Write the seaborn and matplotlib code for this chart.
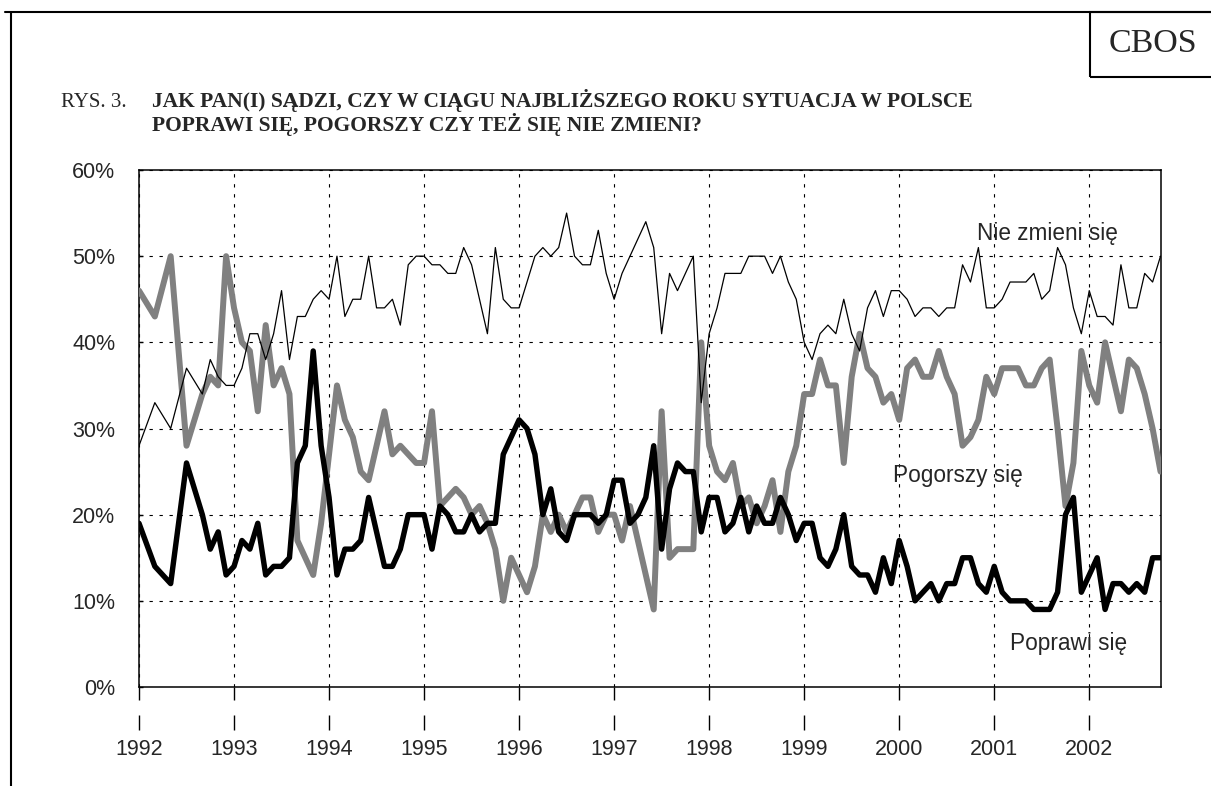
import pandas as pd
import matplotlib
matplotlib.use('Agg')
import matplotlib.pyplot as plt
from matplotlib.lines import Line2D
from matplotlib.patches import Rectangle
import seaborn as sns

# miesiace badan: w 1992 co dwa miesiace do lipca, potem co miesiac (do X 2002)
miesiace = pd.period_range('1992-01', '2002-10', freq='M')
miesiace = [m for m in miesiace if str(m) not in ('1992-02', '1992-04', '1992-06', '1992-08')]

nie_zmieni = [
    28, 33, 30, 37, 34, 38, 36, 35,
    35, 37, 41, 41, 38, 41, 46, 38, 43, 43, 45, 46,
    45, 50, 43, 45, 45, 50, 44, 44, 45, 42, 49, 50,
    50, 49, 49, 48, 48, 51, 49, 45, 41, 51, 45, 44,
    44, 47, 50, 51, 50, 51, 55, 50, 49, 49, 53, 48,
    45, 48, 50, 52, 54, 51, 41, 48, 46, 48, 50, 33,
    41, 44, 48, 48, 48, 50, 50, 50, 48, 50, 47, 45,
    40, 38, 41, 42, 41, 45, 41, 39, 44, 46, 43, 46,
    46, 45, 43, 44, 44, 43, 44, 44, 49, 47, 51, 44,
    44, 45, 47, 47, 47, 48, 45, 46, 51, 49, 44, 41,
    46, 43, 43, 42, 49, 44, 44, 48, 47, 50,
]
pogorszy = [
    46, 43, 50, 28, 34, 36, 35, 50,
    44, 40, 39, 32, 42, 35, 37, 34, 17, 15, 13, 19,
    27, 35, 31, 29, 25, 24, 28, 32, 27, 28, 27, 26,
    26, 32, 21, 22, 23, 22, 20, 21, 19, 16, 10, 15,
    13, 11, 14, 20, 18, 20, 18, 20, 22, 22, 18, 20,
    20, 17, 21, 17, 13, 9, 32, 15, 16, 16, 16, 40,
    28, 25, 24, 26, 21, 22, 19, 21, 24, 18, 25, 28,
    34, 34, 38, 35, 35, 26, 36, 41, 37, 36, 33, 34,
    31, 37, 38, 36, 36, 39, 36, 34, 28, 29, 31, 36,
    34, 37, 37, 37, 35, 35, 37, 38, 30, 21, 26, 39,
    35, 33, 40, 36, 32, 38, 37, 34, 30, 25,
]
poprawi = [
    19, 14, 12, 26, 20, 16, 18, 13,
    14, 17, 16, 19, 13, 14, 14, 15, 26, 28, 39, 28,
    22, 13, 16, 16, 17, 22, 18, 14, 14, 16, 20, 20,
    20, 16, 21, 20, 18, 18, 20, 18, 19, 19, 27, 29,
    31, 30, 27, 20, 23, 18, 17, 20, 20, 20, 19, 20,
    24, 24, 19, 20, 22, 28, 16, 23, 26, 25, 25, 18,
    22, 22, 18, 19, 22, 18, 21, 19, 19, 22, 20, 17,
    19, 19, 15, 14, 16, 20, 14, 13, 13, 11, 15, 12,
    17, 14, 10, 11, 12, 10, 12, 12, 15, 15, 12, 11,
    14, 11, 10, 10, 10, 9, 9, 9, 11, 20, 22, 11,
    13, 15, 9, 12, 12, 11, 12, 11, 15, 15,
]
lata = list(range(1992, 2003))
procenty = [0, 10, 20, 30, 40, 50, 60]

df = pd.DataFrame({
    'czas': [m.year + (m.month - 1) / 12 for m in miesiace],
    'Nie zmieni się': nie_zmieni,
    'Pogorszy się': pogorszy,
    'Poprawi się': poprawi,
})

sns.set_style('white')
plt.rcParams['font.family'] = ['Liberation Sans', 'DejaVu Sans']

fig = plt.figure(figsize=(12.11, 7.86), dpi=100)
ax = fig.add_axes([139 / 1211, 99 / 786, 1022 / 1211, 517 / 786])

sns.lineplot(data=df, x='czas', y='Pogorszy się', color='#808080', linewidth=4.3, ax=ax, zorder=3)
sns.lineplot(data=df, x='czas', y='Poprawi się', color='black', linewidth=3.9, ax=ax, zorder=4)
sns.lineplot(data=df, x='czas', y='Nie zmieni się', color='black', linewidth=0.9, ax=ax, zorder=5)

ax.set_xlim(1992, 2002 + 9 / 12 + 0.005)
ax.set_ylim(0, 60)
ax.set_xticks(lata)
ax.set_xticklabels([str(r) for r in lata])
ax.set_yticks(procenty)
ax.set_yticklabels([f'{p}%' for p in procenty])
ax.set_xlabel('')
ax.set_ylabel('')
ax.grid(True, color='black', linestyle=(0, (3, 6)), linewidth=0.8)
for s in ax.spines.values():
    s.set_color('black')
    s.set_linewidth(1.1)
    s.set_visible(True)
ax.tick_params(axis='x', direction='out', length=9.5, width=1, color='black',
               pad=28, labelsize=15.5)
ax.tick_params(axis='y', direction='in', length=3, width=1, color='black',
               pad=17, labelsize=15.5)
ax.tick_params(axis='x', bottom=True)
ax.tick_params(axis='y', left=True)
# druga, dolna kreska przy latach
ax.vlines(lata, -0.083, -0.054, transform=ax.get_xaxis_transform(),
          color='black', linewidth=1, clip_on=False)

ax.text(2001.56, 52.6, 'Nie zmieni się', fontsize=16.3, ha='center', va='center')
ax.text(2000.62, 24.6, 'Pogorszy się', fontsize=16.3, ha='center', va='center')
ax.text(2001.78, 5.0, 'Poprawi się', fontsize=16.3, ha='center', va='center')

serif = ['Liberation Serif', 'DejaVu Serif']
fig.text(61 / 1211, 1 - 107 / 786, 'RYS. 3.', family=serif, fontsize=15, va='baseline')
fig.text(152 / 1211, 1 - 107 / 786,
         'JAK PAN(I) SĄDZI, CZY W CIĄGU NAJBLIŻSZEGO ROKU SYTUACJA W POLSCE',
         family=serif, fontsize=15.5, fontweight='bold', va='baseline')
fig.text(152 / 1211, 1 - 131 / 786,
         'POPRAWI SIĘ, POGORSZY CZY TEŻ SIĘ NIE ZMIENI?',
         family=serif, fontsize=15.5, fontweight='bold', va='baseline')

# ramka strony i pole CBOS
fig.add_artist(Line2D([5 / 1211, 1], [1 - 12 / 786, 1 - 12 / 786], color='black', linewidth=1.5))
fig.add_artist(Line2D([11 / 1211, 11 / 1211], [0, 1 - 12 / 786], color='black', linewidth=1.5))
fig.add_artist(Rectangle((1090 / 1211, 1 - 77 / 786), 130 / 1211, 65 / 786,
                         transform=fig.transFigure, fill=False, edgecolor='black', linewidth=1.5))
fig.text(1153 / 1211, 1 - 44 / 786, 'CBOS', family=serif, fontsize=24.5, ha='center', va='center')

fig.savefig('out.png', dpi=100, facecolor='white')
